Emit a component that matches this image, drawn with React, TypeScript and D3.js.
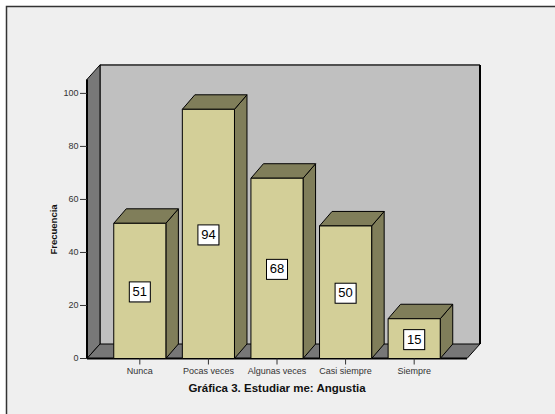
import React from "react";
import * as d3 from "d3";

// Frequency counts per answer category
const categories = ["Nunca", "Pocas veces", "Algunas veces", "Casi siempre", "Siempre"];
const frequencies = [51, 94, 68, 50, 15];
const yTicks = [0, 20, 40, 60, 80, 100];
const chartTitle = "Gráfica 3. Estudiar me: Angustia";
const yAxisTitle = "Frecuencia";

const W = 555;
const H = 414;

// plot geometry (front plane of the 3D box)
const left = 87;
const right = 467;
const y0 = 358.5;
const y100 = 93.4;
const wallDx = 13;
const wallDy = -14.5;
const barDx = 12.5;
const barDy = -14.5;

const FONT = "Arial, 'Liberation Sans', Helvetica, sans-serif";

export default function App() {
  const x = d3
    .scaleBand<string>()
    .domain(categories)
    .range([left, right])
    .paddingInner(0.24)
    .paddingOuter(0.39);
  const y = d3.scaleLinear().domain([0, 100]).range([y0, y100]);

  const topY = y(100) - 28.5 - wallDy; // front top edge of left wall
  const backTop = topY + wallDy;

  const pts = (p: [number, number][]) => p.map((d) => d.join(",")).join(" ");

  return (
    <div style={{ position: "absolute", left: 0, top: 0 }}>
      <svg width={W} height={H} style={{ display: "block" }}>
        <rect x={0} y={0} width={W} height={H} fill="#ffffff" />
        <rect x={6.5} y={6.5} width={700} height={700} fill="#efefef" stroke="#333" strokeWidth={1.5} />

        {/* back wall */}
        <rect
          x={left + wallDx}
          y={backTop}
          width={right + wallDx - (left + wallDx)}
          height={y0 + wallDy - backTop}
          fill="#c0c0c0"
        />
        <line x1={left + wallDx} x2={right + wallDx} y1={backTop} y2={backTop} stroke="#505050" strokeWidth={2} />
        <line x1={right + wallDx} x2={right + wallDx} y1={backTop} y2={y0 + wallDy} stroke="#000" strokeWidth={2} />
        <line x1={left + wallDx} x2={left + wallDx} y1={backTop} y2={y0 + wallDy} stroke="#000" strokeWidth={1} />

        {/* left wall */}
        <polygon
          points={pts([
            [left, topY],
            [left + wallDx, backTop],
            [left + wallDx, y0 + wallDy],
            [left, y0],
          ])}
          fill="#787878"
          stroke="#000"
          strokeWidth={1}
        />
        <line x1={left} x2={left} y1={topY} y2={y0} stroke="#000" strokeWidth={2} />

        {/* floor */}
        <polygon
          points={pts([
            [left, y0],
            [left + wallDx, y0 + wallDy],
            [right + wallDx, y0 + wallDy],
            [right, y0],
          ])}
          fill="#777777"
          stroke="#000"
          strokeWidth={1}
        />
        <line x1={left} x2={right} y1={y0} y2={y0} stroke="#000" strokeWidth={2} />

        {/* bars */}
        {categories.map((c, i) => {
          const v = frequencies[i];
          const bx = x(c) as number;
          const bw = x.bandwidth();
          const ty = y(v);
          return (
            <g key={c} stroke="#000" strokeWidth={1} strokeLinejoin="round">
              <polygon
                points={pts([
                  [bx + bw, ty],
                  [bx + bw + barDx, ty + barDy],
                  [bx + bw + barDx, y0 + barDy],
                  [bx + bw, y0],
                ])}
                fill="#807e5a"
              />
              <polygon
                points={pts([
                  [bx, ty],
                  [bx + barDx, ty + barDy],
                  [bx + bw + barDx, ty + barDy],
                  [bx + bw, ty],
                ])}
                fill="#807e5a"
              />
              <rect x={bx} y={ty} width={bw} height={y0 - ty} fill="#d3cf98" />
            </g>
          );
        })}

        {/* value labels */}
        {categories.map((c, i) => {
          const v = frequencies[i];
          const cx = (x(c) as number) + x.bandwidth() / 2;
          const cy = y(v / 2) + 1;
          return (
            <g key={"lbl" + c}>
              <rect x={cx - 10} y={cy - 9.5} width={21} height={20} fill="#888" />
              <rect x={cx - 10.5} y={cy - 10} width={21} height={20} fill="#fff" stroke="#000" strokeWidth={1} />
              <text
                x={cx}
                y={cy + 0.5}
                textAnchor="middle"
                dominantBaseline="middle"
                fontFamily={FONT}
                fontSize={13}
                fill="#000"
              >
                {v}
              </text>
            </g>
          );
        })}

        {/* y axis */}
        {yTicks.map((t) => (
          <g key={"yt" + t}>
            <line x1={80} x2={left} y1={y(t)} y2={y(t)} stroke="#333" strokeWidth={1} />
            <text
              x={78.5}
              y={y(t)}
              textAnchor="end"
              dominantBaseline="middle"
              fontFamily={FONT}
              fontSize={9}
              fill="#333"
            >
              {t}
            </text>
          </g>
        ))}
        <text
          transform={`translate(56.5,229.5) rotate(-90)`}
          textAnchor="middle"
          fontFamily={FONT}
          fontSize={9.5}
          fontWeight="bold"
          fill="#111"
        >
          {yAxisTitle}
        </text>

        {/* x axis */}
        {categories.map((c) => {
          const cx = (x(c) as number) + x.bandwidth() / 2;
          return (
            <g key={"xt" + c}>
              <line x1={cx} x2={cx} y1={y0} y2={y0 + 6} stroke="#333" strokeWidth={1} />
              <text
                x={cx}
                y={y0 + 13}
                textAnchor="middle"
                dominantBaseline="middle"
                fontFamily={FONT}
                fontSize={9}
                fill="#333"
              >
                {c}
              </text>
            </g>
          );
        })}

        <text
          x={277}
          y={392}
          textAnchor="middle"
          fontFamily={FONT}
          fontSize={11.5}
          fontWeight="bold"
          fill="#111"
        >
          {chartTitle}
        </text>
      </svg>
    </div>
  );
}
